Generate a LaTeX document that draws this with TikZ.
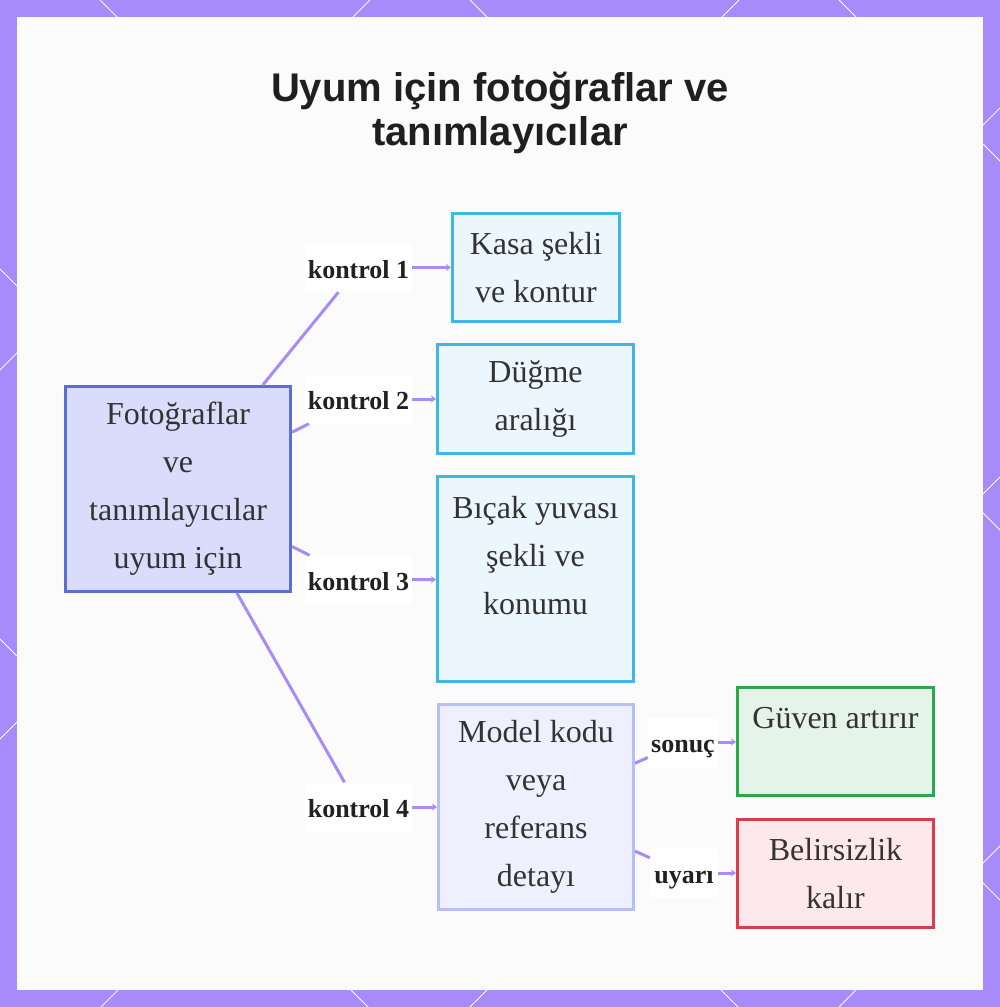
\documentclass[tikz,border=0pt]{standalone}
\usepackage{fontspec}
\setmainfont{Liberation Serif}
\newfontfamily\headfont{Liberation Sans}
\usetikzlibrary{arrows.meta,positioning}
\definecolor{frame}{HTML}{A78BFA}
\definecolor{canvas}{HTML}{FBFBFB}
\definecolor{edgepurple}{HTML}{A98BF5}
\definecolor{inkdark}{HTML}{333333}
\definecolor{mainline}{HTML}{5B6FD0}
\definecolor{mainfill}{HTML}{D9DCFB}
\definecolor{checkline}{HTML}{3DB6E8}
\definecolor{checkfill}{HTML}{EBF6FD}
\definecolor{modelline}{HTML}{B8BEF8}
\definecolor{modelfill}{HTML}{EEF0FE}
\definecolor{okline}{HTML}{2EA64C}
\definecolor{okfill}{HTML}{E5F4E8}
\definecolor{warnline}{HTML}{D63E4E}
\definecolor{warnfill}{HTML}{FDE8EB}

\begin{document}
\begin{tikzpicture}[x=1pt, y=-1pt, >=Stealth,
  box/.style={draw=#1line, fill=#1fill, line width=3pt, inner sep=0pt, align=center, text=inkdark, font=\fontsize{32}{48}\selectfont},
  lab/.style={fill=white, inner sep=0pt, minimum height=49pt, text=black!87, font=\bfseries\fontsize{26}{30}\selectfont, text height=24pt, text depth=3pt},
  link/.style={draw=edgepurple, line width=3pt},
  arr/.style={link, -{Stealth[length=5pt, width=7pt]}}]
\useasboundingbox (0,0) rectangle (1000,1007);
% frame with the diagonal lattice
\fill[frame] (0,0) rectangle (1000,1007);
\begin{scope}
\clip (0,0) rectangle (1000,1007);
\foreach \c in {370,739,1108,1477,1846} \draw[white, line width=1pt] (\c,0) -- ++(-1100,1100);
\foreach \c in {-639,-269,100,470,839} \draw[white, line width=1pt] (\c,0) -- ++(1100,1100);
\end{scope}
\fill[canvas] (17,17) rectangle (983,990);

\node[font=\headfont\bfseries\fontsize{40}{44}\selectfont, align=center, text=black!88, inner sep=0pt, anchor=north] (title) at (500,72) {Uyum için fotoğraflar ve\\tanımlayıcılar};

\node[box=main, minimum width=225pt, minimum height=205pt] (photos) at (178,489) {Fotoğraflar\\ve\\tanımlayıcılar\\uyum için};
\node[box=check, minimum width=167pt, minimum height=108pt] (shape) at (536,267.5) {Kasa şekli\\ve kontur};
\node[box=check, minimum width=196pt, minimum height=109pt] (button) at (535.5,399) {Düğme\\aralığı};
\node[box=check, minimum width=196pt, minimum height=205pt] (blade) at (535.5,579) {Bıçak yuvası\\şekli ve\\konumu\\\mbox{}};
\node[box=model, minimum width=195pt, minimum height=205pt] (code) at (536,807) {Model kodu\\veya\\referans\\detayı};
\node[box=ok, minimum width=196pt, minimum height=108pt] (trust) at (835.5,741.5) {Güven artırır\\\mbox{}};
\node[box=warn, minimum width=196pt, minimum height=108pt] (doubt) at (835.5,873.5) {Belirsizlik\\kalır};

\foreach \i/\y in {1/267.5,2/399,3/580,4/807} \node[lab, minimum width=107pt] (k\i) at (358.5,\y) {kontrol \i};
\node[lab, minimum width=70pt] (result) at (683,742) {sonuç};
\node[lab, minimum width=68pt] (warning) at (684,873) {uyarı};

\foreach \i/\t in {1/shape,2/button,3/blade,4/code} {
  \draw[link] (photos) -- (k\i);
  \draw[arr] (k\i) -- (\t);
}
\draw[link] (code) -- (result);
\draw[arr] (result.east) -- (result.east -| trust.west);
\draw[link] (code) -- (warning);
\draw[arr] (warning.east) -- (warning.east -| doubt.west);
\end{tikzpicture}
\end{document}
